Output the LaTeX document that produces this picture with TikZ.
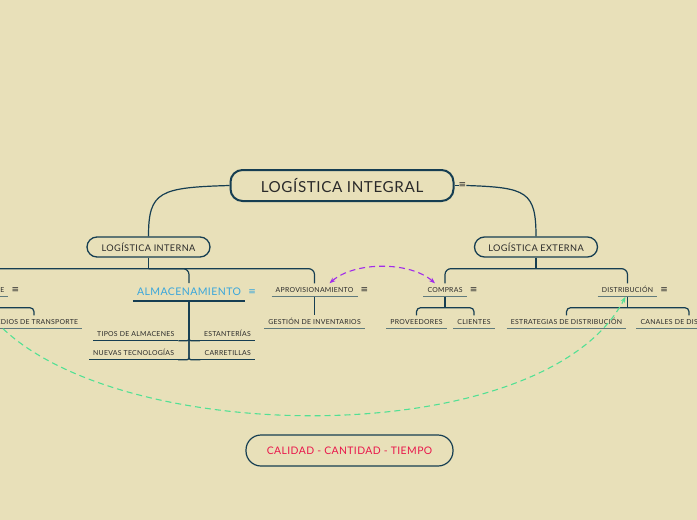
\documentclass[tikz,border=0pt]{standalone}
\usepackage{fontspec}
\setmainfont{Lato}[LetterSpace=4]
\newfontfamily\symfont{DejaVu Sans}
\usetikzlibrary{arrows.meta,positioning,calc}
\definecolor{paper}{HTML}{E8E0B9}
\definecolor{branch}{HTML}{163E52}
\definecolor{ulgray}{HTML}{5F7A7C}
\definecolor{txt}{HTML}{2A2A2A}
\definecolor{almablue}{HTML}{3AA6DB}
\definecolor{qred}{HTML}{E8174B}
\definecolor{relpurple}{HTML}{A12BEA}
\definecolor{relgreen}{HTML}{52E094}

\begin{document}
\begin{tikzpicture}[x=1pt, y=-1pt,
  font=\fontsize{6.9}{8}\selectfont, text=txt,
  conn/.style={draw=branch, line width=1.2pt},
  ul/.style={append after command={(\tikzlastnode.south west) edge[draw=#1, line width=1.3pt] (\tikzlastnode.south east)}},
  topic/.style={inner xsep=4pt, inner ysep=4pt, text height=5pt, text depth=0pt, ul=#1},
  topic/.default=ulgray,
  main/.style={draw=branch, line width=1.3pt, rounded corners=10pt,
    minimum width=123pt, minimum height=20pt, font=\fontsize{9.2}{10}\selectfont},
  icon/.style={inner sep=0pt, font=\symfont\fontsize{9}{10}\selectfont},
  rel/.style={line width=1.1pt, dash pattern=on 6pt off 4pt}
]
  \clip (0,0) rectangle (697,520);
  \fill[paper] (0,0) rectangle (697,520);

  \node[draw=branch, line width=2pt, rounded corners=12pt, minimum width=223pt,
    minimum height=31pt, font=\fontsize{15.2}{17}\selectfont] (root) at (342,185.5) {LOGÍSTICA INTEGRAL};
  \node[icon, right=4pt of root] (rooticon) {≡};

  \node[main] (int) at (148.5,247) {LOGÍSTICA INTERNA};
  \node[main] (ext) at (536,247) {LOGÍSTICA EXTERNA};

  \node[topic] (trans) at (-19,290) {TRANSPORTE};
  \node[icon, right=3pt of trans] (transicon) {≡};
  \node[topic] (medios) at (34,322) {MEDIOS DE TRANSPORTE};

  \node[topic=branch, text=almablue, font=\fontsize{10.5}{12}\selectfont,
    text height=7.5pt, inner ysep=5pt] (alma) at (189,292) {ALMACENAMIENTO};
  \node[icon, text=almablue, right=3pt of alma] (almaicon) {≡};
  \node[topic=branch, anchor=west] (tipos) at (93,334) {TIPOS DE ALMACENES};
  \node[topic=branch, anchor=east] (estant) at (255,334) {ESTANTERÍAS};
  \node[topic=branch, anchor=west] (nuevas) at (89,353) {NUEVAS TECNOLOGÍAS};
  \node[topic=branch, anchor=east] (carret) at (255,353) {CARRETILLAS};

  \node[topic] (aprov) at (314.5,290) {APROVISIONAMIENTO};
  \node[icon, right=3pt of aprov] (aprovicon) {≡};
  \node[topic] (gestion) at (314.5,322) {GESTIÓN DE INVENTARIOS};

  \node[topic] (compras) at (445,290) {COMPRAS};
  \node[icon, right=3pt of compras] (comprasicon) {≡};
  \node[topic] (prov) at (416.5,322) {PROVEEDORES};
  \node[topic] (clien) at (474,322) {CLIENTES};

  \node[topic] (dist) at (627.5,290) {DISTRIBUCIÓN};
  \node[icon, right=3pt of dist] (disticon) {≡};
  \node[topic] (estrat) at (566.5,322) {ESTRATEGIAS DE DISTRIBUCIÓN};
  \node[topic] (canal) at (689,322) {CANALES DE DISTRIBUCIÓN};

  \node[draw=branch, line width=1.2pt, rounded corners=15pt, minimum width=207pt,
    minimum height=31pt, text=qred, font=\fontsize{10.4}{12}\selectfont] (qual) at (349.5,450.5) {CALIDAD - CANTIDAD - TIEMPO};

  \draw[conn] (root.west) .. controls +(-70,2) and +(0,-45) .. (int.north);
  \draw[conn, line width=0.8pt] (root.east) -- (rooticon.west);
  \draw[conn] (rooticon.east) .. controls +(60,2) and +(0,-45) .. (ext.north);

  \coordinate (intj) at ($(int.south)+(0,11)$);
  \draw[conn] (int.south) -- (intj);
  \draw[conn, rounded corners=6pt] (trans.north) |- (intj) -| (alma.north);
  \draw[conn, rounded corners=6pt] (intj) -| (aprov.north);

  \coordinate (extj) at ($(ext.south)+(0,11)$);
  \draw[conn] (ext.south) -- (extj);
  \draw[conn, rounded corners=6pt] (compras.north) |- (extj) -| (dist.north);

  \coordinate (transj) at ($(trans.south)+(0,11)$);
  \draw[conn] (trans.south) -- (transj);
  \draw[conn, rounded corners=4pt] (transj) -| (medios.north);

  \draw[conn, rounded corners=2pt] (alma.south) |- (tipos.south east);
  \draw[conn, rounded corners=2pt] (alma.south) |- (estant.south west);
  \draw[conn, rounded corners=2pt] (alma.south) |- (nuevas.south east);
  \draw[conn, rounded corners=2pt] (alma.south) |- (carret.south west);

  \draw[conn] (aprov.south) -- (gestion.north);

  \coordinate (compj) at ($(compras.south)+(0,11)$);
  \draw[conn] (compras.south) -- (compj);
  \draw[conn, rounded corners=4pt] (prov.north) |- (compj) -| (clien.north);

  \coordinate (distj) at ($(dist.south)+(0,11)$);
  \draw[conn] (dist.south) -- (distj);
  \draw[conn, rounded corners=4pt] (estrat.north) |- (distj) -| (canal.north);

  \draw[rel, relpurple, {Stealth[length=6pt]}-{Stealth[length=6pt]}]
    ([xshift=15pt]aprov.north) .. controls +(25,-22) and +(-25,-22) .. ([xshift=-10pt]compras.north);
  \draw[rel, relgreen, -{Stealth[length=6pt]}]
    ([xshift=-31pt]medios.south) .. controls +(127,120) and +(-80,153) .. ([xshift=-2pt]dist.south);
\end{tikzpicture}
\end{document}
